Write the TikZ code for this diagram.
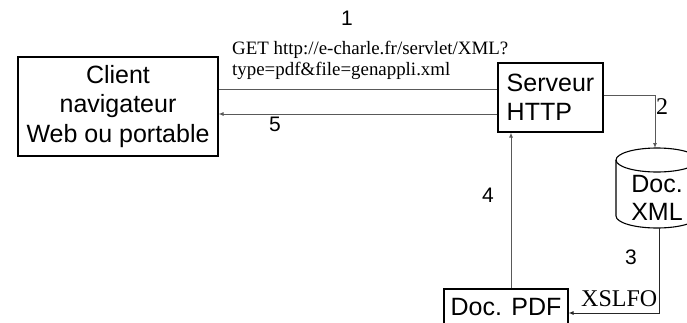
\documentclass[tikz,border=0pt]{standalone}
\usepackage{fontspec}
\setmainfont{Liberation Serif}
\setsansfont{Liberation Sans}
\usetikzlibrary{arrows.meta}
\begin{document}
\begin{tikzpicture}[x=1pt,y=1pt,
  boite/.style={draw,line width=1.1pt,inner sep=0pt,font=\sffamily\fontsize{25}{29.5}\selectfont},
  lien/.style={black!65,line width=1pt},
  fl/.style={lien,-{Latex[length=5pt,width=4pt]}},
  num/.style={font=\sffamily\fontsize{21}{21}\selectfont,inner sep=0pt},
  etiq/.style={font=\fontsize{24}{24}\selectfont,inner sep=0pt}]
\useasboundingbox (0,0) rectangle (687,322);
\clip (0,0) rectangle (687,322);

\node[boite,align=center,minimum width=200pt,minimum height=99pt] (client) at (118,215.5)
  {Client\\navigateur\\Web ou portable};
\node[boite,align=left,minimum width=105pt,minimum height=69pt] (serveur) at (550.5,224.5)
  {Serveur\\HTTP};
\node[boite,minimum width=124pt,minimum height=36pt] (pdf) at (506,15) {Doc. PDF};

% la base XML
\draw[line width=1.1pt] (616,162) -- (616,106) arc (180:360:41 and 12) -- (698,162);
\draw[line width=1.1pt] (657,162) ellipse (41 and 12);
\node[align=center,inner sep=0pt,font=\sffamily\fontsize{25}{28}\selectfont] (xml) at (657,124) {Doc.\\XML};
\coordinate (xmlhaut) at (655,174);
\coordinate (xmlbas) at (659,94);

%-------------------------------------
\draw[lien] ([yshift=17.5pt]client.east) -- ([yshift=8.5pt]serveur.west);
\draw[fl] ([yshift=-16.5pt]serveur.west) -- ([yshift=-7.5pt]client.east);
\draw[fl] ([yshift=2.5pt]serveur.east) -| (xmlhaut);
\draw[fl,black!85] (xmlbas) |- ([yshift=-6pt]pdf.east);
\draw[fl] ([xshift=5pt]pdf.north) -- ([xshift=5pt]pdf.north |- serveur.south);

\node[num] (n1) at (347,304) {1};
\node[anchor=north west,align=left,inner sep=0pt,font=\fontsize{18.9}{20.5}\selectfont] (requete) at (232,281)
  {GET http://e-charle.fr/servlet/XML?\\type=pdf\&file=genappli.xml};
\node[num] (n5) at (275,198) {5};
\node[etiq] (n2) at (662,215) {2};
\node[num] (n4) at (488,126.5) {4};
\node[num] (n3) at (631,64.5) {3};
\node[etiq,anchor=base west] (xslfo) at (581,16) {XSLFO};
\end{tikzpicture}
\end{document}
